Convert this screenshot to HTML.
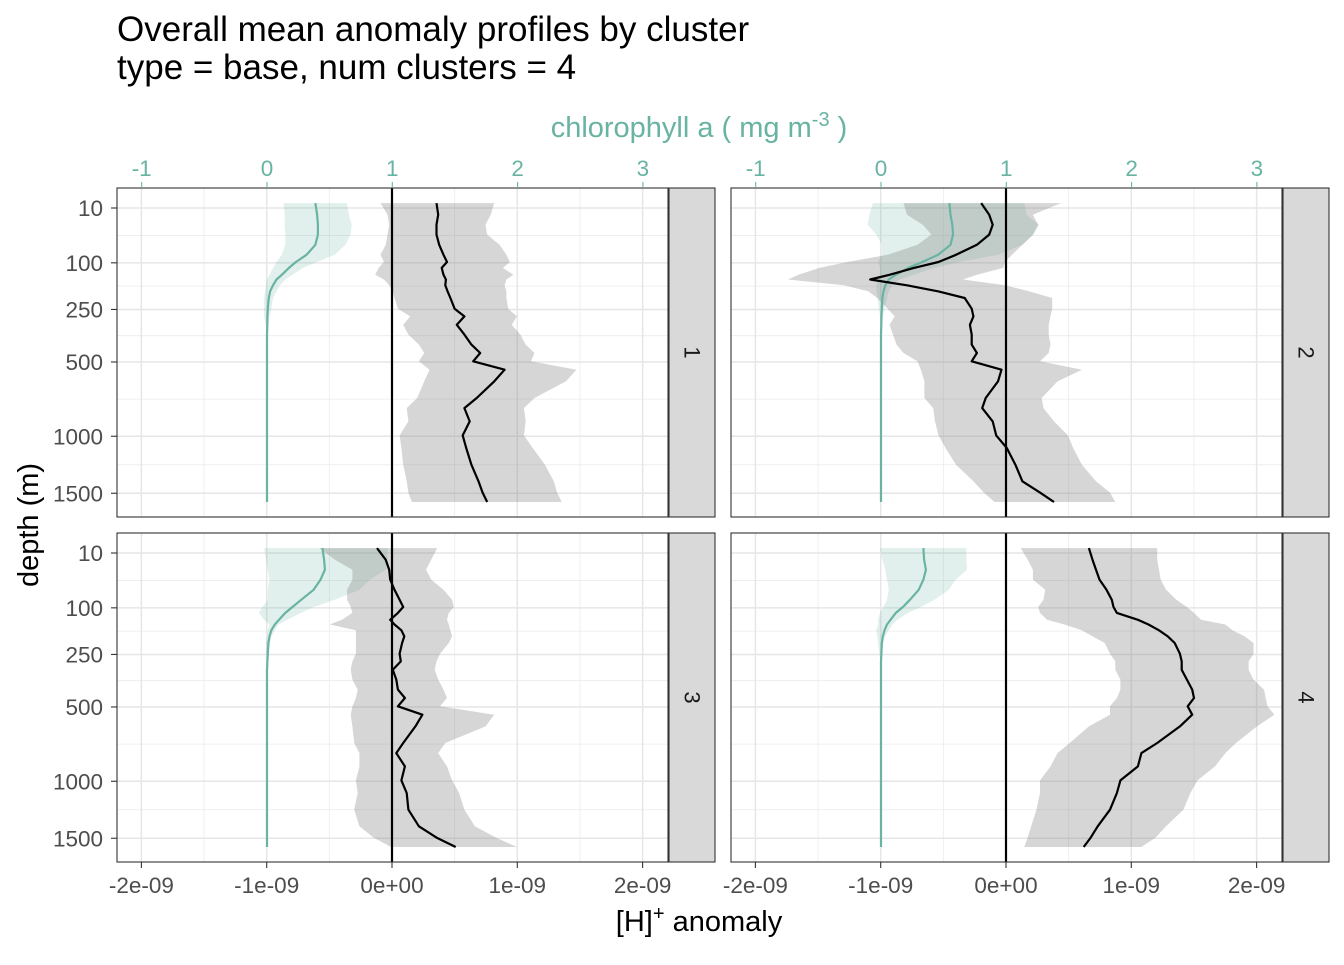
<!DOCTYPE html>
<html><head><meta charset="utf-8"><style>
html,body{margin:0;padding:0;background:#fff;}
svg text{font-family:"Liberation Sans",Arial,sans-serif;}
</style></head><body>
<svg id="chart" xmlns="http://www.w3.org/2000/svg" width="1344" height="960" viewBox="0 0 1344 960">
<rect width="1344" height="960" fill="#fff"/>
<text x="117" y="41" font-size="35" fill="#000">Overall mean anomaly profiles by cluster</text>
<text x="117" y="79" font-size="35" fill="#000">type = base, num clusters = 4</text>
<text x="699" y="137" font-size="29" fill="#69b3a2" text-anchor="middle">chlorophyll a ( mg m<tspan dy="-11" font-size="20">-3</tspan><tspan dy="11"> )</tspan></text>
<text x="699" y="931" font-size="29" fill="#000" text-anchor="middle">[H]<tspan dy="-11" font-size="20">+</tspan><tspan dy="11"> anomaly</tspan></text>
<text transform="translate(38,525) rotate(-90)" font-size="29" fill="#000" text-anchor="middle">depth (m)</text>
<g id="plots"></g>
</svg>
<script>
const depths = [6.5,16,27.5,42,60,81,98,113,132,146,164,184,207,247,278,314,359,408,451,496,544,614,721,790,886,993,1095,1237,1387,1494,1586];
const clusters = ["1","2","3","4"];
const hMean1 = [0.355,0.369,0.355,0.355,0.377,0.411,0.439,0.397,0.411,0.430,0.425,0.444,0.466,0.5,0.578,0.517,0.578,0.634,0.704,0.648,0.899,0.816,0.676,0.578,0.620,0.564,0.592,0.634,0.690,0.723,0.760];
const hLo1 = [-0.092,-0.036,-0.022,-0.036,-0.050,-0.092,-0.064,-0.106,-0.134,-0.064,-0.022,0.006,0.020,0.047,0.145,0.089,0.131,0.215,0.257,0.215,0.299,0.257,0.201,0.117,0.131,0.061,0.075,0.089,0.117,0.131,0.159];
const hHi1 = [0.816,0.788,0.746,0.760,0.858,0.913,0.941,0.885,0.969,0.913,0.899,0.913,0.913,0.927,0.997,0.955,1.025,1.067,1.137,1.109,1.472,1.388,1.137,1.053,1.067,1.053,1.123,1.221,1.291,1.318,1.355];
const hMean2 = [-0.198,-0.134,-0.106,-0.134,-0.232,-0.399,-0.539,-0.735,-0.930,-1.084,-0.790,-0.539,-0.330,-0.274,-0.260,-0.288,-0.274,-0.274,-0.232,-0.274,-0.036,-0.064,-0.162,-0.190,-0.106,-0.078,0.006,0.075,0.131,0.271,0.383];
const hLo2 = [-0.818,-0.790,-0.665,-0.595,-0.707,-0.944,-1.265,-1.489,-1.656,-1.740,-1.293,-1.098,-1.028,-0.944,-0.888,-0.930,-0.902,-0.874,-0.818,-0.707,-0.679,-0.651,-0.651,-0.581,-0.567,-0.539,-0.483,-0.399,-0.260,-0.176,-0.092];
const hHi2 = [0.439,0.215,0.257,0.215,0.131,0.047,-0.008,-0.022,-0.232,-0.344,-0.008,0.187,0.369,0.369,0.355,0.341,0.341,0.355,0.341,0.271,0.606,0.411,0.285,0.299,0.383,0.494,0.536,0.606,0.718,0.830,0.872];
const hMean3 = [-0.120,-0.050,-0.022,-0.014,0.020,0.061,0.089,0.047,-0.014,0.020,0.075,0.098,0.081,0.061,0.070,0.006,0.034,0.047,0.103,0.047,0.243,0.187,0.089,0.034,0.103,0.075,0.117,0.131,0.215,0.355,0.508];
const hLo3 = [-0.581,-0.455,-0.316,-0.316,-0.358,-0.358,-0.330,-0.316,-0.399,-0.497,-0.288,-0.288,-0.288,-0.288,-0.316,-0.330,-0.316,-0.274,-0.288,-0.316,-0.330,-0.316,-0.302,-0.260,-0.260,-0.288,-0.274,-0.302,-0.260,-0.148,-0.008];
const hHi3 = [0.360,0.313,0.271,0.313,0.411,0.480,0.494,0.453,0.439,0.453,0.466,0.480,0.453,0.383,0.355,0.341,0.369,0.411,0.439,0.383,0.816,0.746,0.425,0.369,0.439,0.480,0.536,0.578,0.662,0.830,0.997];
const hMean4 = [0.662,0.690,0.718,0.746,0.802,0.844,0.858,0.885,1.053,1.137,1.221,1.291,1.346,1.388,1.402,1.402,1.444,1.486,1.500,1.450,1.486,1.388,1.207,1.081,1.053,0.913,0.885,0.830,0.732,0.676,0.620];
const hLo4 = [0.117,0.173,0.215,0.215,0.313,0.299,0.257,0.271,0.327,0.466,0.606,0.690,0.788,0.830,0.872,0.872,0.913,0.913,0.885,0.830,0.830,0.662,0.508,0.411,0.355,0.271,0.271,0.243,0.201,0.173,0.145];
const hHi4 = [1.207,1.207,1.221,1.235,1.277,1.360,1.444,1.500,1.556,1.751,1.807,1.905,1.975,1.975,1.936,1.936,1.975,2.059,2.073,2.087,2.142,2.003,1.835,1.751,1.668,1.528,1.472,1.416,1.277,1.193,1.081];
const chlMean1 = [0.386,0.4,0.406,0.406,0.386,0.315,0.231,0.175,0.118,0.076,0.048,0.025,0.014,0.006,0.003,0.002,0,0,0,0,0,0,0,0,0,0,0,0,0,0,0];
const chlLo1 = [0.132,0.141,0.141,0.146,0.146,0.118,0.076,0.048,0.020,0,-0.008,-0.014,-0.023,-0.023,-0.023,-0.01,0,0,0,0,0,0,0,0,0,0,0,0,0,0,0];
const chlHi1 = [0.639,0.654,0.676,0.668,0.625,0.541,0.4,0.287,0.203,0.146,0.104,0.076,0.048,0.034,0.02,0.011,0.005,0,0,0,0,0,0,0,0,0,0,0,0,0,0];
const chlMean2 = [0.546,0.555,0.569,0.575,0.555,0.456,0.330,0.217,0.118,0.062,0.034,0.020,0.011,0.006,0.003,0.002,0,0,0,0,0,0,0,0,0,0,0,0,0,0,0];
const chlLo2 = [-0.065,-0.093,-0.107,-0.037,0.006,0.006,-0.023,-0.008,-0.008,-0.023,-0.037,-0.037,-0.028,-0.017,-0.008,0,0,0,0,0,0,0,0,0,0,0,0,0,0,0,0];
const chlHi2 = [1.146,1.161,1.259,1.217,1.132,0.935,0.625,0.428,0.259,0.146,0.090,0.062,0.048,0.028,0.017,0.01,0,0,0,0,0,0,0,0,0,0,0,0,0,0,0];
const chlMean3 = [0.442,0.456,0.462,0.428,0.372,0.273,0.203,0.146,0.096,0.062,0.034,0.020,0.011,0.006,0.003,0,0,0,0,0,0,0,0,0,0,0,0,0,0,0,0];
const chlLo3 = [-0.023,-0.008,0.006,0.020,0.006,0.006,-0.037,-0.065,-0.023,0.020,0.006,0,-0.008,-0.008,-0.004,0,0,0,0,0,0,0,0,0,0,0,0,0,0,0,0];
const chlHi3 = [0.963,0.963,0.949,0.823,0.738,0.541,0.372,0.273,0.161,0.090,0.062,0.034,0.025,0.011,0.006,0.003,0,0,0,0,0,0,0,0,0,0,0,0,0,0,0];
const chlMean4 = [0.338,0.344,0.358,0.338,0.301,0.231,0.175,0.118,0.076,0.048,0.028,0.014,0.006,0.003,0,0,0,0,0,0,0,0,0,0,0,0,0,0,0,0,0];
const chlLo4 = [-0.008,0.011,0.034,0.048,0.062,0.048,0.020,-0.008,-0.023,-0.023,-0.037,-0.028,-0.023,-0.014,-0.005,0,0,0,0,0,0,0,0,0,0,0,0,0,0,0,0];
const chlHi4 = [0.682,0.682,0.687,0.597,0.541,0.428,0.315,0.217,0.132,0.090,0.062,0.034,0.020,0.006,0.003,0,0,0,0,0,0,0,0,0,0,0,0,0,0,0,0];
const xTicks = [-2,-1,0,1,2];
const xTickLabels = ["-2e-09","-1e-09","0e+00","1e-09","2e-09"];
const chlTicks = [-1,0,1,2,3];
const yTicks = [10,100,250,500,1000,1500];

const NS = "http://www.w3.org/2000/svg";
const root = document.getElementById("plots");
function el(tag, attrs, parent){ const e=document.createElementNS(NS,tag); for(const k in attrs) e.setAttribute(k,attrs[k]); (parent||root).appendChild(e); return e; }

const PW = 551, PH = 329, PX = [117,731], PY = [188,533];
const hMeans=[hMean1,hMean2,hMean3,hMean4], hLos=[hLo1,hLo2,hLo3,hLo4], hHis=[hHi1,hHi2,hHi3,hHi4];
const cMeans=[chlMean1,chlMean2,chlMean3,chlMean4], cLos=[chlLo1,chlLo2,chlLo3,chlLo4], cHis=[chlHi1,chlHi2,chlHi3,chlHi4];

function xs(px0){ return v => px0 + 275 + v*125.3; }
function chlX(px0){ return v => px0 + 150 + v*125.3; }
function ys(py0){ return d => py0 + 20 + (Math.sqrt(d) - Math.sqrt(10))*8.02; }

for(let p=0;p<4;p++){
  const col=p%2, row=Math.floor(p/2);
  const x0=PX[col], y0=PY[row];
  const X=xs(x0), CX=chlX(x0), Y=ys(y0);
  const g=el("g",{});
  
  
  el("rect",{x:x0,y:y0,width:PW,height:PH,fill:"#fff"},g);
  for(let v=-2.5;v<=2.5;v+=1){ const xx=X(v); if(xx>x0&&xx<x0+PW) el("line",{x1:xx,x2:xx,y1:y0,y2:y0+PH,stroke:"#ebebeb","stroke-width":0.8},g); }
  const sq=yTicks.map(Math.sqrt);
  const minors=[];
  for(let i=0;i<sq.length-1;i++) minors.push(((sq[i]+sq[i+1])/2)**2);
  minors.forEach(d=>{ const yy=Y(d); if(yy>y0&&yy<y0+PH) el("line",{x1:x0,x2:x0+PW,y1:yy,y2:yy,stroke:"#ebebeb","stroke-width":0.8},g); });
  xTicks.forEach(v=>{ const xx=X(v); el("line",{x1:xx,x2:xx,y1:y0,y2:y0+PH,stroke:"#e6e6e6","stroke-width":1.5},g); });
  yTicks.forEach(d=>{ const yy=Y(d); el("line",{x1:x0,x2:x0+PW,y1:yy,y2:yy,stroke:"#e6e6e6","stroke-width":1.5},g); });
  function ribbon(lo,hi,sc,fill,name){
    let pts=[]; depths.forEach((d,i)=>pts.push(sc(lo[i]).toFixed(1)+","+Y(d).toFixed(1)));
    for(let i=depths.length-1;i>=0;i--) pts.push(sc(hi[i]).toFixed(1)+","+Y(depths[i]).toFixed(1));
    const r=el("polygon",{points:pts.join(" "),fill:fill},g);
    
    
  }
  function line(v,sc,stroke,name){
    const pts=depths.map((d,i)=>sc(v[i]).toFixed(1)+","+Y(d).toFixed(1)).join(" ");
    const l=el("polyline",{points:pts,fill:"none",stroke:stroke,"stroke-width":2.2,"stroke-linejoin":"round"},g);
    
    
  }
  ribbon(cLos[p],cHis[p],CX,"rgba(105,179,162,0.2)","chl-ribbon");
  ribbon(hLos[p],hHis[p],X,"rgba(127,127,127,0.32)","h-anomaly-ribbon");
  line(cMeans[p],CX,"#69b3a2","chl-mean-line");
  const zl=el("line",{x1:X(0),x2:X(0),y1:y0,y2:y0+PH,stroke:"#000","stroke-width":2.2},g);
  
  
  line(hMeans[p],X,"#000","h-anomaly-mean-line");
  el("rect",{x:x0,y:y0,width:PW,height:PH,fill:"none",stroke:"#333","stroke-width":1.1},g);
  const s=el("rect",{x:x0+PW+1,y:y0,width:46,height:PH,fill:"#d9d9d9",stroke:"#333","stroke-width":1.1},g);
  
  
  const st=el("text",{transform:`translate(${x0+PW+24},${y0+PH/2}) rotate(90)`,"font-size":22,fill:"#1a1a1a","text-anchor":"middle","dominant-baseline":"central"},g);
  st.textContent=clusters[p];
  
  
  if(col===0){
    yTicks.forEach(d=>{ const yy=Y(d);
      el("line",{x1:x0-6,x2:x0,y1:yy,y2:yy,stroke:"#333","stroke-width":1.1},g);
      const t=el("text",{x:x0-14,y:yy+8,"font-size":22.5,fill:"#4d4d4d","text-anchor":"end"},g); t.textContent=d;
      
      
    });
  }
  if(row===0){
    chlTicks.forEach(v=>{ const xx=CX(v);
      el("line",{x1:xx,x2:xx,y1:y0-6,y2:y0,stroke:"#69b3a2","stroke-width":1.1},g);
      const t=el("text",{x:xx,y:y0-12,"font-size":22.5,fill:"#69b3a2","text-anchor":"middle"},g); t.textContent=v;
      
      
    });
  }
  if(row===1){
    xTicks.forEach((v,i)=>{ const xx=X(v);
      el("line",{x1:xx,x2:xx,y1:y0+PH,y2:y0+PH+6,stroke:"#333","stroke-width":1.1},g);
      const t=el("text",{x:xx,y:y0+PH+31,"font-size":22.5,fill:"#4d4d4d","text-anchor":"middle"},g); t.textContent=xTickLabels[i];
      
      
    });
  }
}
</script>
</body></html>
